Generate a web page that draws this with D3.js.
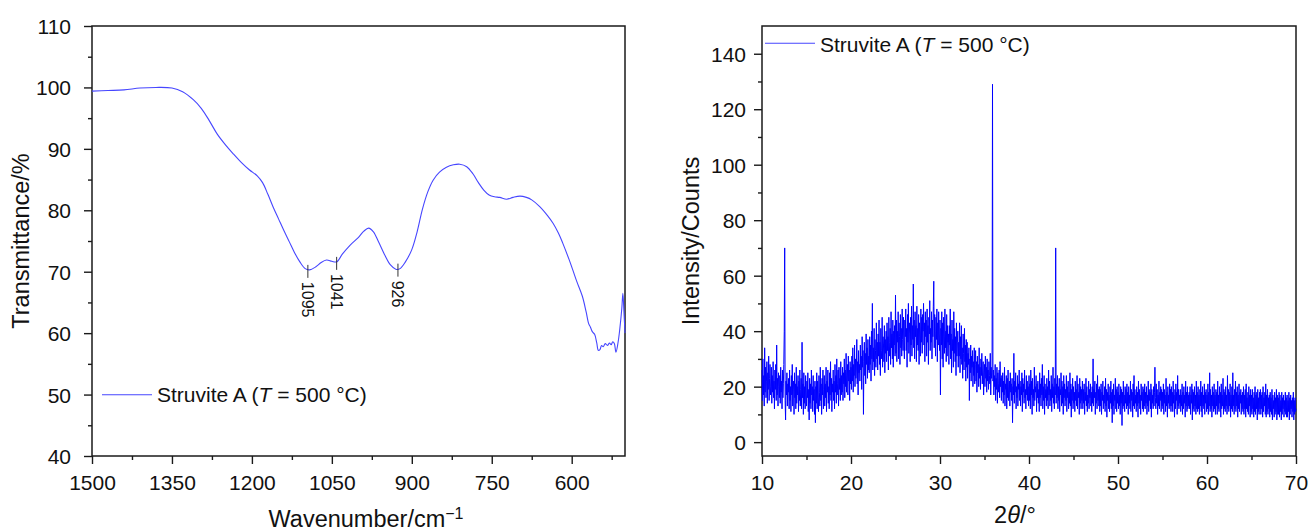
<!DOCTYPE html>
<html>
<head>
<meta charset="utf-8">
<script src="https://cdn.jsdelivr.net/npm/d3@7"></script>
<style>
  html, body { margin: 0; padding: 0; background: #fff; }
  svg { display: block; }
  text { font-family: "Liberation Sans", Arial, sans-serif; fill: #111; }
</style>
</head>
<body>
<svg id="chart" width="1309" height="531"></svg>
<script>
// ---------- FTIR data (left panel) ----------
const irWavenumber = [1500,1470,1440,1410,1380,1350,1330,1310,1295,1280,1265,1250,1235,1220,1205,1190,1180,1170,1160,1150,1140,1130,1120,1110,1100,1092,1080,1070,1060,1050,1041,1030,1016,1000,990,981,972,962,950,940,930,922,912,900,890,880,870,860,848,835,822,810,797,785,775,765,755,745,735,722,710,697,685,675,660,645,635,625,617,605,598,590,580,573,568,565,561,557,553,550,547,544,541,537,533,529,526,523,520,517,513,510,506,504,502,500];
const irTransmittance = [99.4,99.5,99.6,99.9,100.0,99.9,99.3,98.0,96.6,94.6,92.4,90.7,89.2,87.8,86.6,85.6,84.5,82.6,80.5,78.6,76.7,74.9,73.1,71.6,70.5,70.3,70.8,71.5,71.9,71.7,71.6,72.9,74.3,75.6,76.6,77.1,76.5,74.8,72.6,71.1,70.4,70.5,71.6,73.6,76.5,80.2,83.0,84.9,86.2,87.0,87.4,87.5,87.1,85.9,84.5,83.3,82.5,82.2,82.1,81.8,82.1,82.3,82.1,81.7,80.6,79.1,77.9,76.3,74.7,72.0,70.3,68.3,66.0,63.5,61.5,61.0,60.2,59.8,58.4,57.2,57.3,58.0,57.8,58.3,58.0,58.4,58.1,58.6,58.3,56.9,58.5,60.5,64.0,66.5,63.5,60.0];
const peakWavenumbers = [1095, 1041, 926];
const peakTransmittance = [70.3, 71.6, 70.5];
const peakLabels = ["1095", "1041", "926"];
const irXTicks = [1500, 1350, 1200, 1050, 900, 750, 600];
const irYTicks = [40, 50, 60, 70, 80, 90, 100, 110];

// ---------- XRD data (right panel), 2θ from 10° to 70° in 0.05° steps ----------
const xrdStart = 10, xrdStep = 0.05;
const xrdIntensity = [
26,15,30,17,24,13,34,18,27,16,22,29,14,25,19,31,15,23,28,17,
20,27,14,24,18,29,16,22,12,26,19,28,15,35,17,23,13,25,20,16,
24,14,27,18,22,12,26,16,21,28,40,70,15,8,22,17,25,13,21,18,
23,12,26,15,20,11,24,17,28,13,19,22,10,25,16,21,12,27,14,20,
17,24,11,22,15,26,13,19,23,12,36,16,21,10,25,14,20,12,24,17,
13,22,16,25,11,19,8,23,14,21,12,26,17,20,11,24,15,19,10,22,
7,20,14,25,12,22,16,11,24,18,13,27,15,21,10,23,17,26,12,19,
24,13,21,16,27,11,22,18,26,14,20,12,25,17,29,15,23,11,21,18,
26,15,22,12,28,18,24,14,30,17,21,26,13,27,19,23,15,29,17,24,
18,27,15,25,21,30,16,26,20,32,18,24,28,17,31,22,26,15,29,21,
27,19,31,22,34,18,28,24,35,20,30,23,26,37,21,29,17,33,25,28,
22,35,26,31,19,38,27,33,10,29,36,24,32,21,39,28,34,23,37,26,
31,25,38,28,35,22,40,30,50,26,34,29,41,24,37,33,27,43,30,36,
26,39,31,44,28,36,24,41,33,30,45,27,38,35,29,42,25,37,32,40,
29,43,33,38,26,45,36,31,41,28,47,34,39,30,44,27,40,35,42,31,
53,32,44,29,40,36,47,30,43,38,28,46,34,41,31,48,37,33,45,35,
30,44,38,48,33,41,27,46,36,50,32,43,39,29,45,35,49,31,42,37,
57,34,44,30,47,38,42,29,49,35,41,33,46,28,43,39,31,48,36,45,
32,46,40,50,35,43,29,47,38,44,31,48,36,42,28,45,39,51,33,41,
36,47,30,44,38,49,58,34,46,40,31,45,37,48,29,43,35,47,39,33,
44,17,41,35,47,30,43,27,45,38,32,48,34,40,29,46,31,42,36,39,
28,42,35,48,30,39,25,44,33,37,27,47,32,41,29,38,24,43,31,36,
40,27,36,31,43,25,38,30,42,28,34,23,39,32,26,41,29,35,22,37,
27,36,23,32,28,34,15,30,25,35,22,31,27,33,20,29,24,34,21,28,
33,22,29,18,31,25,28,20,34,23,27,19,30,24,32,21,26,29,17,25,
28,20,31,23,27,18,30,22,26,19,29,24,21,32,17,27,23,25,129,22,
26,17,24,20,28,15,23,19,27,14,25,21,18,26,16,29,20,23,15,24,
18,25,14,22,17,27,13,21,19,24,12,23,16,26,15,20,22,13,25,18,
21,15,23,7,20,17,32,14,22,18,25,12,20,16,24,13,21,19,26,15,
22,13,20,17,25,11,23,18,21,14,26,16,19,12,24,17,22,15,20,13,
24,15,21,12,26,17,22,10,23,16,19,13,27,15,20,18,24,11,21,16,
22,14,19,11,25,16,21,13,23,17,28,12,20,15,24,10,21,16,19,13,
23,15,20,12,26,17,22,13,19,15,24,11,21,16,27,14,20,12,23,17,
70,14,21,16,24,12,20,15,23,11,19,17,25,13,22,14,20,10,24,16,
21,13,19,15,24,11,20,16,22,12,18,14,25,13,21,9,19,15,23,12,
20,14,18,11,22,15,19,13,24,12,21,16,18,10,23,14,20,12,19,15,
22,12,19,14,21,10,18,15,23,13,20,11,17,14,22,12,19,16,21,13,
18,11,20,14,30,13,19,16,22,10,18,14,21,12,24,15,19,13,20,11,
19,13,21,10,18,15,22,12,17,14,20,11,23,13,19,9,18,15,21,12,
17,11,20,14,22,12,18,7,19,13,21,10,17,15,23,12,19,11,20,14,
18,12,21,13,17,10,20,14,19,6,18,12,22,13,17,11,20,14,19,12,
21,13,18,10,20,14,17,12,22,11,19,15,18,9,21,13,24,12,19,14,
17,11,20,13,18,9,22,14,19,12,17,10,21,15,18,12,20,11,19,13,
21,12,18,14,20,10,17,13,22,11,19,15,18,12,21,9,19,14,17,12,
20,13,18,27,16,12,21,14,19,10,17,13,22,12,18,15,20,11,19,13,
18,12,21,10,19,14,17,11,23,13,18,9,20,14,17,12,21,13,19,11,
20,13,18,11,22,14,17,9,19,12,21,15,18,10,24,13,19,12,17,14,
19,11,17,13,21,10,18,12,20,14,17,9,22,13,18,11,20,12,17,13,
18,12,20,10,17,14,21,8,19,12,18,11,20,13,17,10,22,12,18,11,
20,12,17,10,19,13,22,11,18,9,20,13,17,12,21,10,18,14,19,11,
17,12,21,10,18,13,25,11,19,12,17,9,20,13,18,11,21,12,17,10,
19,13,18,10,22,12,17,11,20,14,18,9,21,12,17,13,23,10,19,12,
18,11,20,13,17,10,24,12,19,11,18,13,21,9,17,12,20,11,25,13,
17,10,19,12,22,11,18,13,20,9,17,12,21,11,18,14,19,10,17,12,
18,11,20,10,17,12,19,9,21,12,16,11,18,10,20,13,17,9,19,11,
17,10,19,12,16,9,18,11,20,10,17,12,18,8,19,11,16,10,18,12,
19,10,17,12,18,9,20,11,16,13,18,10,21,9,17,11,19,10,16,12,
17,9,18,11,16,10,19,8,17,12,15,9,18,10,16,11,19,8,17,10,
16,10,18,9,17,11,15,8,18,10,16,12,17,9,15,11,18,10,16,9,
17,9,15,11,18,8,16,10,17,12,15,9,16,11,18,8,15,10,16,11,
12];
const xrdTwoTheta = xrdIntensity.map((_, i) => +(xrdStart + i * xrdStep).toFixed(2));
const xrdXTicks = [10, 20, 30, 40, 50, 60, 70];
const xrdYTicks = [0, 20, 40, 60, 80, 100, 120, 140];

// ---------- Drawing ----------
const svg = d3.select("#chart");
const AXIS = "#1a1a1a";
const TICK_FONT = 21, TITLE_FONT = 23.5, LEGEND_FONT = 21;

function drawFrame(g, x, y, xMajor, xMinor, yMajor, yMinor, yLabelEnd) {
  const [x0, x1] = x.range();
  const [y1, y0] = y.range();
  g.append("rect").attr("x", Math.min(x0, x1)).attr("y", y0)
    .attr("width", Math.abs(x1 - x0)).attr("height", y1 - y0)
    .attr("fill", "none").attr("stroke", AXIS).attr("stroke-width", 1.5);
  const fmt = d3.format("d");
  const bx = g.append("g").attr("transform", `translate(0,${y1})`)
    .call(d3.axisBottom(x).tickValues(xMajor).tickFormat(fmt).tickSize(8).tickSizeOuter(0).tickPadding(11));
  const bxm = g.append("g").attr("transform", `translate(0,${y1})`)
    .call(d3.axisBottom(x).tickValues(xMinor).tickSize(4).tickSizeOuter(0).tickFormat(""));
  const ly = g.append("g").attr("transform", `translate(${Math.min(x0, x1)},0)`)
    .call(d3.axisLeft(y).tickValues(yMajor).tickFormat(fmt).tickSize(8).tickSizeOuter(0).tickPadding(yLabelEnd));
  const lym = g.append("g").attr("transform", `translate(${Math.min(x0, x1)},0)`)
    .call(d3.axisLeft(y).tickValues(yMinor).tickSize(4).tickSizeOuter(0).tickFormat(""));
  [bx, bxm, ly, lym].forEach(a => {
    a.select(".domain").remove();
    a.selectAll("line").attr("stroke", AXIS).attr("stroke-width", 1.4);
    a.selectAll("text").attr("font-family", "Liberation Sans, Arial, sans-serif")
      .attr("font-size", TICK_FONT).attr("fill", "#111");
  });
  bx.selectAll("text").attr("dy", "0.71em");
  ly.selectAll("text").attr("dy", "0.36em");
}

// ===== Left: FTIR =====
const irX = d3.scaleLinear().domain([1500, 500]).range([92, 625]);
const irY = d3.scaleLinear().domain([40, 110]).range([456, 26]);
const gL = svg.append("g");
drawFrame(gL, irX, irY, irXTicks, d3.range(1425, 500, -150),
  irYTicks, d3.range(45, 110, 10), 13);

const irData = irWavenumber.map((w, i) => [w, irTransmittance[i]]);
gL.append("path").datum(irData)
  .attr("fill", "none").attr("stroke", "#4646ff").attr("stroke-width", 1.1)
  .attr("d", d3.line().x(d => irX(d[0])).y(d => irY(d[1])).curve(d3.curveCatmullRom.alpha(0.5)));

peakWavenumbers.forEach((w, i) => {
  const px = irX(w), py = irY(peakTransmittance[i]);
  gL.append("line").attr("x1", px).attr("x2", px).attr("y1", py - 5).attr("y2", py + 8)
    .attr("stroke", "#333").attr("stroke-width", 1);
  gL.append("text").attr("transform", `translate(${px},${py + 12}) rotate(90)`)
    .attr("dominant-baseline", "central").attr("font-size", 16).text(peakLabels[i]);
});

gL.append("line").attr("x1", 102).attr("x2", 152).attr("y1", 394.7).attr("y2", 394.7)
  .attr("stroke", "#4646ff").attr("stroke-width", 1.1);
const legL = gL.append("text").attr("x", 157).attr("y", 401.5).attr("font-size", LEGEND_FONT);
legL.append("tspan").text("Struvite A (");
legL.append("tspan").attr("font-style", "italic").text("T");
legL.append("tspan").text(" = 500 °C)");

svg.append("text").attr("transform", "translate(29,241) rotate(-90)")
  .attr("text-anchor", "middle").attr("font-size", TITLE_FONT).text("Transmittance/%");
const xtL = svg.append("text").attr("x", 366).attr("y", 527).attr("text-anchor", "middle")
  .attr("font-size", TITLE_FONT);
xtL.append("tspan").text("Wavenumber/cm");
xtL.append("tspan").attr("dy", -8).attr("font-size", 16).text("\u22121");

// ===== Right: XRD =====
const xrdX = d3.scaleLinear().domain([10, 70]).range([762, 1296]);
const xrdY = d3.scaleLinear().domain([-5, 150]).range([456, 26]);
const gR = svg.append("g");
drawFrame(gR, xrdX, xrdY, xrdXTicks, d3.range(15, 70, 10),
  xrdYTicks, d3.range(10, 140, 20), 8);

const xrdData = xrdTwoTheta.map((t, i) => [t, xrdIntensity[i]]);
gR.append("path").datum(xrdData)
  .attr("fill", "none").attr("stroke", "#0000ff").attr("stroke-width", 1.0)
  .attr("d", d3.line().x(d => xrdX(d[0])).y(d => xrdY(d[1])));

gR.append("line").attr("x1", 765).attr("x2", 815).attr("y1", 43.3).attr("y2", 43.3)
  .attr("stroke", "#4646ff").attr("stroke-width", 1.1);
const legR = gR.append("text").attr("x", 820).attr("y", 51.5).attr("font-size", LEGEND_FONT);
legR.append("tspan").text("Struvite A (");
legR.append("tspan").attr("font-style", "italic").text("T");
legR.append("tspan").text(" = 500 °C)");

svg.append("text").attr("transform", "translate(699,241) rotate(-90)")
  .attr("text-anchor", "middle").attr("font-size", TITLE_FONT).text("Intensity/Counts");
const xtR = svg.append("text").attr("x", 1015).attr("y", 523).attr("text-anchor", "middle")
  .attr("font-size", TITLE_FONT);
xtR.append("tspan").text("2");
xtR.append("tspan").attr("font-style", "italic").text("θ");
xtR.append("tspan").text("/°");
</script>
</body>
</html>
